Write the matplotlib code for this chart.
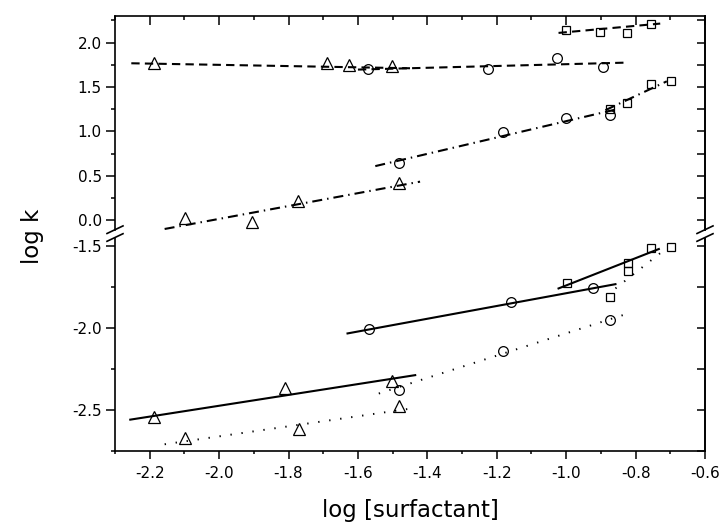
import matplotlib
matplotlib.use('Agg')
import matplotlib.pyplot as plt
from matplotlib.ticker import MultipleLocator
from matplotlib.lines import Line2D

plt.rcParams['font.family'] = 'DejaVu Sans'
plt.rcParams['axes.unicode_minus'] = False

# ---- upper panel (log k around 0 .. 2.2) ----
# dashed group
tri_dash_x = [-2.188, -1.690, -1.625, -1.503]
tri_dash_y = [1.768, 1.775, 1.745, 1.741]
tri_dash_fit_x = [-2.253, -1.45]
tri_dash_fit_y = [1.768, 1.712]

circ_dash_x = [-1.570, -1.224, -1.027, -0.894]
circ_dash_y = [1.704, 1.700, 1.824, 1.730]
circ_dash_fit_x = [-1.60, -0.83]
circ_dash_fit_y = [1.697, 1.775]

sq_dash_x = [-1.000, -0.902, -0.825, -0.755]
sq_dash_y = [2.143, 2.124, 2.113, 2.211]
sq_dash_fit_x = [-1.022, -0.729]
sq_dash_fit_y = [2.110, 2.215]

# dash-dot group
tri_dd_x = [-2.098, -1.904, -1.772, -1.482]
tri_dd_y = [0.022, -0.016, 0.221, 0.423]
tri_dd_fit_x = [-2.157, -1.421]
tri_dd_fit_y = [-0.098, 0.435]

circ_dd_x = [-1.482, -1.181, -1.000, -0.875]
circ_dd_y = [0.649, 0.998, 1.149, 1.186]
circ_dd_fit_x = [-1.55, -0.86]
circ_dd_fit_y = [0.610, 1.245]

sq_dd_x = [-0.875, -0.825, -0.756, -0.698]
sq_dd_y = [1.250, 1.317, 1.531, 1.569]
sq_dd_fit_x = [-0.887, -0.710]
sq_dd_fit_y = [1.240, 1.565]

# ---- lower panel (log k around -2.7 .. -1.5) ----
# solid group
tri_sol_x = [-2.188, -1.810, -1.503]
tri_sol_y = [-2.543, -2.364, -2.325]
tri_sol_fit_x = [-2.256, -1.435]
tri_sol_fit_y = [-2.559, -2.288]

circ_sol_x = [-1.568, -1.158, -0.924]
circ_sol_y = [-2.008, -1.845, -1.756]
circ_sol_fit_x = [-1.630, -0.858]
circ_sol_fit_y = [-2.034, -1.734]

sq_sol_x = [-0.998, -0.823, -0.756]
sq_sol_y = [-1.725, -1.607, -1.516]
sq_sol_fit_x = [-1.022, -0.733]
sq_sol_fit_y = [-1.760, -1.520]

# dotted group
tri_dot_x = [-2.098, -1.770, -1.482]
tri_dot_y = [-2.668, -2.618, -2.476]
tri_dot_fit_x = [-2.157, -1.446]
tri_dot_fit_y = [-2.709, -2.491]

circ_dot_x = [-1.482, -1.181, -0.875]
circ_dot_y = [-2.380, -2.140, -1.953]
circ_dot_fit_x = [-1.540, -0.827]
circ_dot_fit_y = [-2.400, -1.916]

sq_dot_x = [-0.875, -0.823, -0.698]
sq_dot_y = [-1.811, -1.654, -1.506]
sq_dot_fit_x = [-0.858, -0.720]
sq_dot_fit_y = [-1.760, -1.530]

xticks = [-2.2, -2.0, -1.8, -1.6, -1.4, -1.2, -1.0, -0.8, -0.6]
upper_yticks = [0.0, 0.5, 1.0, 1.5, 2.0]
lower_yticks = [-2.5, -2.0, -1.5]

DASHED = (0, (4, 2.5))
DASHDOT = (0, (4.8, 2.4, 0.7, 2.4))
DOTTED = (0, (0.7, 5.0))

marker_kw = {
    '^': dict(marker='^', markersize=8.5),
    'o': dict(marker='o', markersize=7),
    's': dict(marker='s', markersize=6),
}


def draw(ax, x, y, fx, fy, mk, ls):
    lw = 1.4 if ls == DOTTED else 1.5
    ax.plot(fx, fy, color='black', linestyle=ls, linewidth=lw, zorder=2)
    ax.plot(x, y, linestyle='none', markerfacecolor='none',
            markeredgecolor='black', markeredgewidth=0.9, zorder=3,
            **marker_kw[mk])


fig = plt.figure(figsize=(7.21, 5.24), dpi=100)
ax_top = fig.add_axes([0.1595, 0.562, 0.8183, 0.4074])
ax_bot = fig.add_axes([0.1595, 0.1393, 0.8183, 0.4074])

draw(ax_top, tri_dash_x, tri_dash_y, tri_dash_fit_x, tri_dash_fit_y, '^', DASHED)
draw(ax_top, circ_dash_x, circ_dash_y, circ_dash_fit_x, circ_dash_fit_y, 'o', DASHED)
draw(ax_top, sq_dash_x, sq_dash_y, sq_dash_fit_x, sq_dash_fit_y, 's', DASHED)
draw(ax_top, tri_dd_x, tri_dd_y, tri_dd_fit_x, tri_dd_fit_y, '^', DASHDOT)
draw(ax_top, circ_dd_x, circ_dd_y, circ_dd_fit_x, circ_dd_fit_y, 'o', DASHDOT)
draw(ax_top, sq_dd_x, sq_dd_y, sq_dd_fit_x, sq_dd_fit_y, 's', DASHDOT)

draw(ax_bot, tri_sol_x, tri_sol_y, tri_sol_fit_x, tri_sol_fit_y, '^', '-')
draw(ax_bot, circ_sol_x, circ_sol_y, circ_sol_fit_x, circ_sol_fit_y, 'o', '-')
draw(ax_bot, sq_sol_x, sq_sol_y, sq_sol_fit_x, sq_sol_fit_y, 's', '-')
draw(ax_bot, tri_dot_x, tri_dot_y, tri_dot_fit_x, tri_dot_fit_y, '^', DOTTED)
draw(ax_bot, circ_dot_x, circ_dot_y, circ_dot_fit_x, circ_dot_fit_y, 'o', DOTTED)
draw(ax_bot, sq_dot_x, sq_dot_y, sq_dot_fit_x, sq_dot_fit_y, 's', DOTTED)

ax_top.set_ylim(-0.104, 2.30)
ax_bot.set_ylim(-2.75, -1.45)

for ax, yt in ((ax_top, upper_yticks), (ax_bot, lower_yticks)):
    ax.set_xlim(-2.3, -0.6)
    ax.set_xticks(xticks)
    ax.xaxis.set_minor_locator(MultipleLocator(0.1))
    ax.set_yticks(yt)
    ax.set_yticklabels(['%.1f' % v for v in yt])
    ax.yaxis.set_minor_locator(MultipleLocator(0.25))
    ax.tick_params(axis='y', which='major', direction='out', length=6.5,
                   width=1.1, labelsize=11, pad=3, right=False)
    ax.tick_params(axis='y', which='minor', direction='out', length=3,
                   width=1.1, right=False)
    for s in ax.spines.values():
        s.set_linewidth(1.2)
    # right-hand ticks point inwards and are all the same length
    sec = ax.secondary_yaxis('right')
    sec.set_yticks(yt)
    sec.yaxis.set_minor_locator(MultipleLocator(0.25))
    sec.tick_params(axis='y', which='both', direction='in', length=6,
                    width=1.1, labelright=False)
    sec.spines['right'].set_linewidth(1.2)

ax_top.spines['bottom'].set_visible(False)
ax_top.xaxis.tick_top()
ax_top.tick_params(axis='x', which='major', direction='in', length=6.5,
                   width=1.1, labeltop=False, labelbottom=False)
ax_top.tick_params(axis='x', which='minor', direction='in', length=3,
                   width=1.1)

ax_bot.spines['top'].set_visible(False)
ax_bot.tick_params(axis='x', which='major', direction='out', length=6,
                   width=1.1, labelsize=11, pad=5, top=False)
ax_bot.tick_params(axis='x', which='minor', direction='out', length=2.5,
                   width=1.1, top=False)
ax_bot.set_xticklabels(['%.1f' % v for v in xticks])

# axis break marks
W, H = 721.0, 524.0
for px in (115, 705):
    for py in (229.7, 237.5):
        fig.add_artist(Line2D([(px - 8) / W, (px + 8) / W],
                              [1 - (py + 3.8) / H, 1 - (py - 3.8) / H],
                              color='black', linewidth=1.2))

fig.text(410 / W, 1 - 516.7 / H, 'log [surfactant]', ha='center',
         va='baseline', fontsize=16.5)
fig.text(32 / W, 1 - 236 / H, 'log k', ha='center', va='center',
         rotation=90, fontsize=16.5)

fig.savefig('out.png', dpi=100)
